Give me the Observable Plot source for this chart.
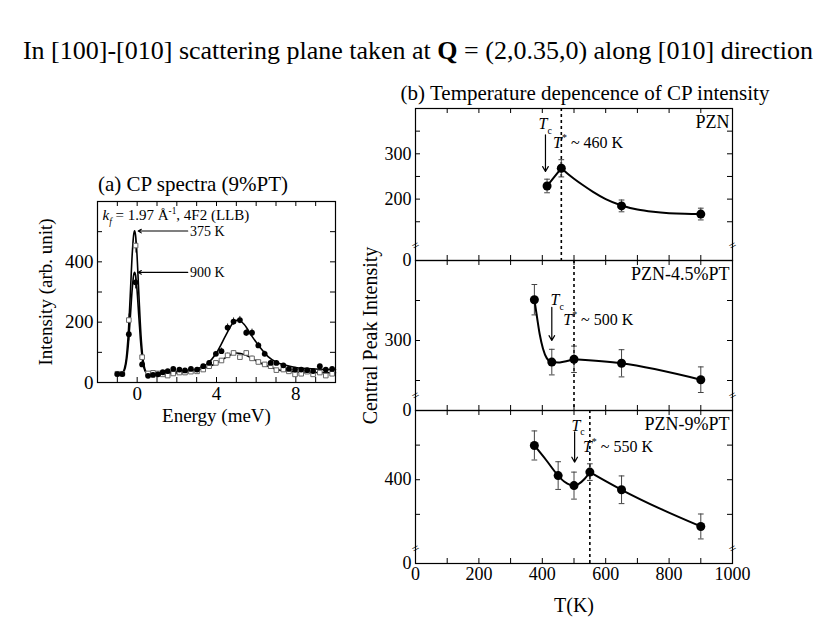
<!DOCTYPE html>
<html><head><meta charset="utf-8">
<script src="https://cdn.jsdelivr.net/npm/d3@7"></script>
<script src="https://cdn.jsdelivr.net/npm/@observablehq/plot@0.6"></script>
<style>
body{margin:0;background:#fff;}
#root{position:relative;width:830px;height:642px;font-family:"Liberation Serif","Times New Roman",serif;color:#000;overflow:hidden;background:#fff}
.t{position:absolute;white-space:nowrap;line-height:1;transform:translateX(-50%)}
</style></head><body><div id="root"></div>
<script>
// ---------- Panel (a): CP spectra (9%PT) ----------
const energy = [-1.0,-0.75,-0.42,-0.08,0.25,0.55,0.8,1.05,1.29,1.54,1.82,2.13,2.41,2.71,3.02,3.33,3.63,3.97,4.25,4.56,4.86,5.18,5.5,5.79,6.11,6.43,6.73,7.02,7.37,7.65,7.96,8.27,8.57,8.87,9.21,9.51,9.83];
const intensity375 = [29,29,207,454,84,30,32,30,27,23,30,33,33,36,37,43,54,65,73,90,98,84,98,80,68,60,54,41,43,37,27,29,36,27,33,23,29];
const error375 = [4,4,20,25,10,4,4,4,4,4,4,4,4,4,4,5,6,6,6,8,8,8,8,8,6,6,6,5,5,5,4,4,4,4,4,4,4];
const intensity900 = [28,28,160,332,60,22,25,27,34,38,45,43,40,45,43,54,65,95,104,182,202,207,165,165,123,95,65,65,57,45,43,43,41,38,54,43,45];
const error900 = [4,4,22,22,10,4,4,4,4,4,5,5,5,5,5,6,7,8,10,12,12,12,12,12,10,9,8,7,6,5,5,5,5,5,6,5,5];
const fitE375 = [-1.05,-0.75,-0.65,-0.55,-0.45,-0.35,-0.25,-0.18,-0.13,-0.08,-0.01,0.09,0.19,0.29,0.39,0.49,0.7,1.0,1.5,2.0,2.5,3.0,3.5,4.0,4.5,5.0,5.5,6.0,6.5,7.0,7.5,8.0,9.0,10.0];
const fitI375 = [28,32,44,80,160,287,425,488,503,488,425,287,160,80,44,32,27,28,29,32,35,41,50,64,84,98,90,72,56,44,38,35,33,32];
const fitE900 = [-1.05,-0.75,-0.65,-0.55,-0.45,-0.35,-0.25,-0.18,-0.13,-0.08,-0.01,0.09,0.19,0.29,0.39,0.49,0.7,1.0,1.5,2.0,2.5,3.0,3.5,4.0,4.5,4.8,5.1,5.4,5.8,6.2,6.6,7.0,7.5,8.0,9.0,10.0];
const fitI900 = [28,31,39,65,122,212,309,355,365,355,309,212,122,65,39,31,27,30,33,36,40,45,60,98,160,195,207,192,152,116,86,68,57,50,45,43];
const peakLabels = ["375 K", "900 K"];
const peakLevels = [502, 365];
const energyTicks = [0, 4, 8];
const intensityTicks = [0, 200, 400];

// ---------- Panel (b): temperature dependence ----------
const tempPZN = [415, 460, 650, 900];
const cpPZN = [229, 268, 185, 167];
const errPZN = [15, 19, 13, 13];
const fitTPZN = [415, 438, 460, 460, 480, 500, 530, 560, 600, 650, 700, 750, 800, 850, 900];
const fitIPZN = [229, 249, 268, 268, 256, 245, 230, 216, 200, 186, 177, 172, 169, 167.5, 167];
const fitSPZN = [0, 0, 0, 1, 1, 1, 1, 1, 1, 1, 1, 1, 1, 1, 1];

const temp45 = [375, 430, 500, 650, 900];
const cp45 = [402, 246, 253, 243, 202];
const err45 = [38, 32, 33, 34, 32];
const fitT45 = [375, 383, 392, 402, 414, 430, 450, 467, 485, 500, 500, 650, 900];
const fitI45 = [402, 360, 315, 280, 256, 246, 245, 247, 250, 253, 253, 243, 202];
const fitS45 = [0, 0, 0, 0, 0, 0, 0, 0, 0, 0, 1, 1, 1];

const temp9 = [375, 450, 500, 550, 650, 900];
const cp9 = [499, 412, 383, 422, 371, 265];
const err9 = [42, 40, 39, 24, 40, 36];
const fitT9 = [375, 412, 450, 470, 488, 500, 515, 533, 550, 550, 600, 650, 775, 900];
const fitI9 = [499, 457, 412, 394, 385, 383, 388, 402, 422, 422, 396, 371, 315, 265];
const fitS9 = [0, 0, 0, 0, 0, 0, 0, 0, 0, 1, 1, 1, 1, 1];

const sampleNames = ["PZN", "PZN-4.5%PT", "PZN-9%PT"];
const tStar = [460, 500, 550];
const tStarText = ["~ 460 K", "~ 500 K", "~ 550 K"];
const tempTicks = [0, 200, 400, 600, 800, 1000];

// ---------- helpers ----------
const FONT = '"Liberation Serif", "Times New Roman", serif';
const style = {background: "transparent", overflow: "visible", fontFamily: FONT, fontSize: "18px", color: "black"};
const root = document.getElementById("root");

function richify(svg) {
  const NS = "http://www.w3.org/2000/svg";
  svg.querySelectorAll("text").forEach(t => {
    const s = t.textContent;
    if (!/<\/?(i|sub|sup)>/.test(s)) return;
    const base = parseFloat(getComputedStyle(t).fontSize) || 16;
    const parts = s.split(/(<\/?(?:i|sub|sup)>)/).filter(p => p !== "");
    while (t.firstChild) t.removeChild(t.firstChild);
    let italic = false, mode = 0, cur = 0;
    for (const p of parts) {
      if (p === "<i>") { italic = true; continue; }
      if (p === "</i>") { italic = false; continue; }
      if (p === "<sub>") { mode = 1; continue; }
      if (p === "<sup>") { mode = -1; continue; }
      if (p === "</sub>" || p === "</sup>") { mode = 0; continue; }
      const ts = document.createElementNS(NS, "tspan");
      ts.textContent = p;
      if (italic) ts.setAttribute("font-style", "italic");
      const target = mode === 1 ? 0.3 * base : mode === -1 ? -0.4 * base : 0;
      if (mode !== 0) ts.setAttribute("font-size", (0.62 * base) + "px");
      if (target !== cur) { ts.setAttribute("dy", (target - cur) + "px"); cur = target; }
      t.appendChild(ts);
    }
  });
}

function put(el, left, top) {
  el.style.position = "absolute";
  el.style.left = left + "px";
  el.style.top = top + "px";
  root.appendChild(el);
  richify(el);
}

function html(text, cx, top, size) {
  const d = document.createElement("div");
  d.className = "t";
  d.innerHTML = text;
  d.style.left = cx + "px";
  d.style.top = top + "px";
  d.style.fontSize = size + "px";
  root.appendChild(d);
}

function inTicks(xs, ys, fw, fh, L) {
  return [
    Plot.tickX(xs, {x: d => d, insetTop: fh - L, strokeWidth: 1}),
    Plot.tickX(xs, {x: d => d, insetBottom: fh - L, strokeWidth: 1}),
    Plot.tickY(ys, {y: d => d, insetRight: fw - L, strokeWidth: 1}),
    Plot.tickY(ys, {y: d => d, insetLeft: fw - L, strokeWidth: 1})
  ];
}

// ---------- titles ----------
html("In [100]-[010] scattering plane taken at <b>Q</b> = (2,0.35,0) along [010] direction", 418, 38, 26);
html("(a) CP spectra (9%PT)", 193, 174, 21);
html("(b) Temperature depencence of CP intensity", 585, 83, 21);

// ---------- panel (a) ----------
{
  const rows = energy.map((e, i) => ({E: e, a: intensity375[i], ea: error375[i], b: intensity900[i], eb: error900[i]}));
  const fitA = fitE375.map((e, i) => ({E: e, I: fitI375[i]}));
  const fitB = fitE900.map((e, i) => ({E: e, I: fitI900[i]}));
  const ann = peakLabels.map((s, i) => ({s, I: peakLevels[i]}));
  const fw = 238, fh = 181;
  const xMinor = d3.range(-1, 10, 1);
  const yMinor = [100, 200, 300, 400, 500];
  const p = Plot.plot({
    width: 330, height: 245, marginLeft: 77, marginRight: 15, marginTop: 21, marginBottom: 43,
    x: {domain: [-2, 10]},
    y: {domain: [0, 600]},
    style,
    marks: [
      ...inTicks(xMinor, yMinor, fw, fh, 5),
      Plot.axisX({ticks: energyTicks, tickSize: 0, tickPadding: 4, fontSize: 19, label: null}),
      Plot.axisX({ticks: [], label: "Energy (meV)", labelAnchor: "center", labelOffset: 39, labelArrow: "none", fontSize: 19}),
      Plot.axisY({ticks: intensityTicks, tickSize: 0, tickPadding: 4, fontSize: 19, label: "Intensity (arb. unit)", labelAnchor: "center", labelOffset: 59, labelArrow: "none"}),
      Plot.ruleX(rows, {x: "E", y1: r => r.a - r.ea, y2: r => r.a + r.ea, stroke: "#777", strokeWidth: 1}),
      Plot.ruleX(rows, {x: "E", y1: r => r.b - r.eb, y2: r => r.b + r.eb, stroke: "#222", strokeWidth: 1}),
      Plot.line(fitA, {x: "E", y: "I", curve: "monotone-x", strokeWidth: 1.6, stroke: "black"}),
      Plot.line(fitB, {x: "E", y: "I", curve: "monotone-x", strokeWidth: 1.6, stroke: "black"}),
      Plot.dot(rows, {x: "E", y: "a", symbol: "square", r: 2.6, stroke: "#666", fill: "white", strokeWidth: 1}),
      Plot.dot(rows, {x: "E", y: "b", r: 2.9, fill: "black", stroke: "none"}),
      Plot.arrow(ann, {x1: 2.55, x2: 0.05, y1: "I", y2: "I", headLength: 5, strokeWidth: 1.1, stroke: "black"}),
      Plot.text(ann, {x: 2.67, y: "I", text: "s", textAnchor: "start", fontSize: 14}),
      Plot.text(["<i>k</i><sub><i>f</i></sub> = 1.97 Å<sup>-1</sup>, 4F2 (LLB)"], {frameAnchor: "top-left", dx: 5, dy: 8, lineAnchor: "top", textAnchor: "start", fontSize: 15}),
      Plot.frame({stroke: "black", strokeWidth: 1.2})
    ]
  });
  put(p, 20, 180);
}

// ---------- panel (b) ----------
function panelB(cfg) {
  const fw = 317, fh = cfg.fh;
  const rows = cfg.T.map((t, i) => ({T: t, I: cfg.I[i], e: cfg.E[i]}));
  const fit = cfg.fitT.map((t, i) => ({T: t, I: cfg.fitI[i], s: cfg.fitS[i]}));
  const lo = cfg.yDomain[0], hi = cfg.yDomain[1];
  const brk = lo + 15 * (hi - lo) / fh;
  const marks = [
    ...inTicks(d3.range(100, 1000, 100), cfg.yMinor, fw, fh, 5),
    Plot.axisY({ticks: cfg.yLabels, tickSize: 0, tickPadding: 4, tickFormat: d => d === lo ? "0" : String(d), label: null}),
    Plot.ruleX([cfg.dash], {strokeDasharray: "3,3", strokeWidth: 1.6, stroke: "black"}),
    Plot.ruleX(rows, {x: "T", y1: r => r.I - r.e, y2: r => r.I + r.e, stroke: "#444", strokeWidth: 1}),
    Plot.link(rows, {x1: r => r.T - 9, x2: r => r.T + 9, y1: r => r.I + r.e, y2: r => r.I + r.e, stroke: "#444", strokeWidth: 1}),
    Plot.link(rows, {x1: r => r.T - 9, x2: r => r.T + 9, y1: r => r.I - r.e, y2: r => r.I - r.e, stroke: "#444", strokeWidth: 1}),
    Plot.line(fit, {x: "T", y: "I", z: "s", curve: "monotone-x", strokeWidth: 2, stroke: "black"}),
    Plot.dot(rows, {x: "T", y: "I", r: 4.5, fill: "black", stroke: "none"}),
    Plot.text([cfg.name], {frameAnchor: "top-right", dx: -3, dy: 7, lineAnchor: "top", textAnchor: "end", fontSize: 18}),
    Plot.arrow([cfg.tc], {x1: "x", x2: "x", y1: "from", y2: "to", headLength: 7, strokeWidth: 1.2, stroke: "black"}),
    Plot.text([cfg.tc], {x: "lx", y: "ly", text: () => "<i>T</i><sub>c</sub>", textAnchor: "start", fontSize: 16}),
    Plot.text([cfg.ts], {x: "x", y: "y", text: d => "<i>T</i><sup>*</sup> " + d.s, textAnchor: "start", fontSize: 16}),
    Plot.text([0, 1000], {x: d => d, y: () => brk, text: () => "=", rotate: -30, fontSize: 13, fill: "black"}),
    Plot.frame({stroke: "black", strokeWidth: 1.2})
  ];
  if (cfg.ylabel) marks.push(Plot.axisY({ticks: [], label: cfg.ylabel, labelAnchor: "center", labelOffset: 53, labelArrow: "none", fontSize: 20}));
  if (cfg.showX) {
    marks.push(Plot.axisX({ticks: tempTicks, tickSize: 0, tickPadding: 4, tickFormat: d => String(d), label: null}));
    marks.push(Plot.axisX({ticks: [], label: "T(K)", labelAnchor: "center", labelOffset: 48, labelArrow: "none", fontSize: 20}));
  }
  return Plot.plot({
    width: 392, height: fh + cfg.mb, marginLeft: 55, marginRight: 20, marginTop: 0, marginBottom: cfg.mb,
    x: cfg.showX ? {domain: [0, 1000]} : {domain: [0, 1000], axis: null},
    y: {domain: cfg.yDomain},
    style,
    marks
  });
}

put(panelB({
  name: sampleNames[0], T: tempPZN, I: cpPZN, E: errPZN, fitT: fitTPZN, fitI: fitIPZN, fitS: fitSPZN,
  yDomain: [64.5, 400], yMinor: [150, 200, 250, 300, 350], yLabels: [64.5, 200, 300], fh: 152, mb: 0,
  dash: tStar[0],
  tc: {x: 410, from: 342, to: 261, lx: 388, ly: 366},
  ts: {x: 434, y: 325, s: tStarText[0]}
}), 360, 108);

put(panelB({
  name: sampleNames[1], T: temp45, I: cp45, E: err45, fitT: fitT45, fitI: fitI45, fitS: fitS45,
  yDomain: [125, 500], yMinor: [200, 300, 400], yLabels: [125, 300], fh: 150, mb: 0,
  dash: tStar[1], ylabel: "Central Peak Intensity",
  tc: {x: 430, from: 383, to: 300, lx: 426, ly: 402},
  ts: {x: 466, y: 352, s: tStarText[1]}
}), 360, 260);

put(panelB({
  name: sampleNames[2], T: temp9, I: cp9, E: err9, fitT: fitT9, fitI: fitI9, fitS: fitS9,
  yDomain: [158, 600], yMinor: [300, 400, 500], yLabels: [158, 400], fh: 153, mb: 55,
  dash: tStar[2], showX: true,
  tc: {x: 502, from: 538, to: 451, lx: 492, ly: 557},
  ts: {x: 528, y: 496, s: tStarText[2]}
}), 360, 410);
</script></body></html>
